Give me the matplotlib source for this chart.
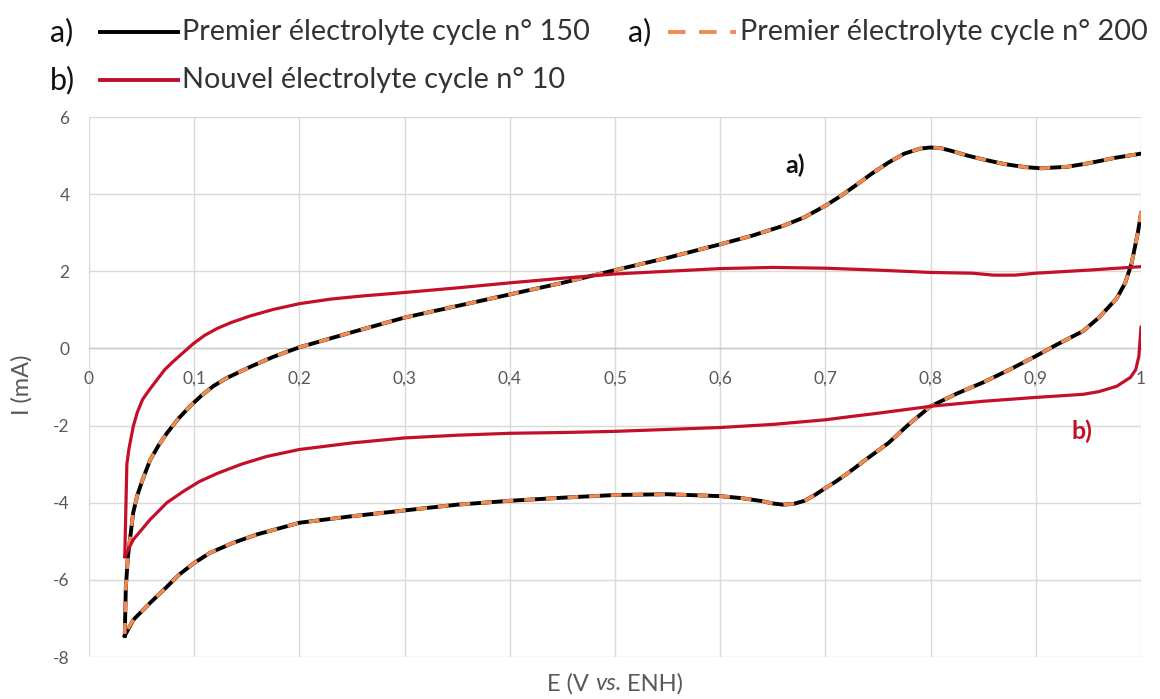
import matplotlib
matplotlib.use("Agg")
import matplotlib.pyplot as plt
from matplotlib.lines import Line2D
from matplotlib.transforms import offset_copy

plt.rcParams['font.family'] = ['Lato', 'DejaVu Sans']

# ---- data: cycle 150 (first electrolyte), anodic then cathodic sweep ----
E_a150_fwd = [0.034, 0.035, 0.037, 0.042, 0.046, 0.051, 0.058, 0.066, 0.074, 0.085, 0.096, 0.107,
              0.118, 0.13, 0.153, 0.175, 0.2, 0.25, 0.3, 0.35, 0.4, 0.45, 0.5, 0.55, 0.6, 0.63,
              0.66, 0.68, 0.7, 0.715, 0.73, 0.745, 0.76, 0.775, 0.79, 0.8, 0.81, 0.82, 0.835,
              0.85, 0.87, 0.89, 0.905, 0.93, 0.95, 0.975, 1.0]
I_a150_fwd = [-7.45, -6.2, -5.4, -4.26, -3.8, -3.4, -2.9, -2.52, -2.2, -1.82, -1.5, -1.22,
              -0.98, -0.78, -0.48, -0.22, 0.03, 0.42, 0.8, 1.1, 1.4, 1.7, 2.03, 2.35, 2.7, 2.92,
              3.18, 3.4, 3.7, 3.96, 4.25, 4.55, 4.82, 5.05, 5.18, 5.21, 5.19, 5.12, 5.0,
              4.9, 4.78, 4.7, 4.67, 4.71, 4.8, 4.94, 5.05]
E_a150_rev = [1.0, 0.997, 0.991, 0.985, 0.977, 0.96, 0.945, 0.92, 0.9, 0.875, 0.85, 0.825, 0.8,
              0.78, 0.76, 0.74, 0.723, 0.71, 0.7, 0.69, 0.68, 0.67, 0.66, 0.65, 0.64, 0.62, 0.6,
              0.55, 0.5, 0.45, 0.4, 0.35, 0.3, 0.25, 0.2, 0.16, 0.137, 0.115, 0.099, 0.085, 0.074,
              0.058, 0.042, 0.034]
I_a150_rev = [3.5, 3.0, 2.2, 1.7, 1.3, 0.8, 0.45, 0.1, -0.2, -0.55, -0.88, -1.17, -1.5,
              -1.95, -2.45, -2.85, -3.2, -3.45, -3.62, -3.8, -3.95, -4.03, -4.05, -4.02, -3.96, -3.88, -3.83,
              -3.78, -3.8, -3.87, -3.95, -4.05, -4.2, -4.35, -4.52, -4.82, -5.04, -5.3, -5.58, -5.88, -6.18,
              -6.6, -7.04, -7.45]

# ---- data: cycle 200 (first electrolyte) ----
E_a200_fwd = list(E_a150_fwd)
I_a200_fwd = [-7.4, -6.2, -5.4, -4.25, -3.8, -3.4, -2.9, -2.52, -2.2, -1.82, -1.5, -1.22,
              -0.98, -0.78, -0.48, -0.22, 0.03, 0.42, 0.8, 1.1, 1.4, 1.7, 2.03, 2.35, 2.7, 2.92,
              3.18, 3.4, 3.7, 3.96, 4.25, 4.55, 4.82, 5.05, 5.18, 5.21, 5.19, 5.12, 5.0,
              4.9, 4.78, 4.7, 4.67, 4.71, 4.8, 4.94, 5.05]
E_a200_rev = list(E_a150_rev)
I_a200_rev = [3.55, 3.0, 2.2, 1.7, 1.3, 0.8, 0.45, 0.1, -0.2, -0.55, -0.88, -1.17, -1.5,
              -1.95, -2.45, -2.85, -3.2, -3.45, -3.62, -3.8, -3.95, -4.03, -4.05, -4.02, -3.96, -3.88, -3.83,
              -3.78, -3.8, -3.87, -3.95, -4.05, -4.2, -4.35, -4.52, -4.82, -5.04, -5.3, -5.58, -5.88, -6.18,
              -6.6, -7.04, -7.4]

# ---- data: cycle 10 (new electrolyte) ----
E_b10_fwd = [0.034, 0.035, 0.036, 0.038, 0.042, 0.046, 0.051, 0.058, 0.065, 0.072, 0.08, 0.087,
             0.094, 0.099, 0.11, 0.122, 0.135, 0.153, 0.175, 0.2, 0.23, 0.26, 0.3, 0.35, 0.4, 0.45,
             0.5, 0.55, 0.6, 0.65, 0.7, 0.75, 0.8, 0.84, 0.86, 0.88, 0.9, 0.95, 1.0]
I_b10_fwd = [-5.4, -4.2, -3.0, -2.6, -2.03, -1.65, -1.32, -1.05, -0.8, -0.55, -0.34, -0.17,
             0.0, 0.12, 0.34, 0.52, 0.67, 0.84, 1.01, 1.16, 1.28, 1.36, 1.45, 1.57, 1.7, 1.82,
             1.93, 2.0, 2.07, 2.1, 2.08, 2.03, 1.97, 1.95, 1.9, 1.9, 1.95, 2.03, 2.12]
E_b10_rev = [1.0, 0.998, 0.995, 0.99, 0.977, 0.96, 0.945, 0.9, 0.85, 0.8, 0.75, 0.723, 0.7, 0.65,
             0.6, 0.55, 0.5, 0.45, 0.4, 0.35, 0.3, 0.25, 0.2, 0.169, 0.145, 0.122, 0.105, 0.09,
             0.074, 0.058, 0.042, 0.034]
I_b10_rev = [0.55, -0.2, -0.55, -0.75, -0.98, -1.12, -1.19, -1.27, -1.37, -1.5, -1.68, -1.77, -1.85, -1.97,
             -2.05, -2.1, -2.15, -2.18, -2.2, -2.25, -2.32, -2.45, -2.62, -2.8, -3.0, -3.24, -3.45, -3.7,
             -4.0, -4.44, -4.96, -5.4]

x_ticks = [0, 0.1, 0.2, 0.3, 0.4, 0.5, 0.6, 0.7, 0.8, 0.9, 1.0]
x_tick_labels = ["0", "0,1", "0,2", "0,3", "0,4", "0,5", "0,6", "0,7", "0,8", "0,9", "1"]
y_ticks = [-8, -6, -4, -2, 0, 2, 4, 6]
y_tick_labels = ["-8", "-6", "-4", "-2", "0", "2", "4", "6"]

BLACK = "#000000"
ORANGE = "#F08A50"
RED = "#C3102A"
GREY = "#595959"
GRID = "#D9D9D9"
DASH = (0, (3.0, 3.0))

fig = plt.figure(figsize=(11.6, 6.99), dpi=100)
ax = fig.add_axes([89 / 1160, 42 / 699, 1052 / 1160, 540 / 699])

for E, I in [(E_a150_fwd, I_a150_fwd), (E_a150_rev, I_a150_rev)]:
    ax.plot(E, I, color=BLACK, lw=2.8, solid_joinstyle='round', zorder=3)
for E, I in [(E_a200_fwd, I_a200_fwd), (E_a200_rev, I_a200_rev)]:
    ax.plot(E, I, color=ORANGE, lw=2.6, ls=DASH, zorder=4)
for E, I in [(E_b10_fwd, I_b10_fwd), (E_b10_rev, I_b10_rev)]:
    ax.plot(E, I, color=RED, lw=2.3, solid_joinstyle='round', zorder=5)

ax.set_xlim(0, 1)
ax.set_ylim(-8, 6)
ax.set_xticks(x_ticks)
ax.set_xticklabels(x_tick_labels)
ax.set_yticks(y_ticks)
ax.set_yticklabels(y_tick_labels)
ax.grid(True, color=GRID, lw=1.0, zorder=0)
ax.set_axisbelow(True)
for s in ['top', 'right', 'left']:
    ax.spines[s].set_visible(False)
ax.spines['bottom'].set_position(('data', 0))
ax.spines['bottom'].set_color("#C8C8C8")
ax.spines['bottom'].set_linewidth(1.0)
ax.tick_params(axis='x', length=0, pad=16, labelsize=12.5, labelcolor=GREY)
ax.tick_params(axis='y', length=0, pad=14, labelsize=12.5, labelcolor=GREY)

fig.text(22 / 1160, 1 - 385 / 699, "I (mA)", rotation=90, ha='center', va='center',
         fontsize=17, color=GREY)

# x-axis label with italic "vs." built from three pieces
fig.canvas.draw()
renderer = fig.canvas.get_renderer()
parts = [("E (V ", 'normal'), ("vs.", 'italic'), (" ENH)", 'normal')]
tmp = [fig.text(0, 0, t, fontsize=17, style=st) for t, st in parts]
widths = [t.get_window_extent(renderer).width for t in tmp]
for t in tmp:
    t.remove()
total = sum(widths)
x_start = 615 - total / 2
y_lab = 1 - 684 / 699
for (t, st), w in zip(parts, widths):
    fig.text(x_start / 1160, y_lab, t, fontsize=17, style=st, color=GREY, ha='left', va='center')
    x_start += w

ax.text(0.671, 4.75, "a)", fontsize=18, fontweight='bold', color="#111111", ha='center', va='center')
ax.text(0.944, -2.15, "b)", fontsize=18, fontweight='bold', color=RED, ha='center', va='center')

# legend (manual layout)
TXT = "#333333"
rows = [
    (1 - 32 / 699, 50, 100, 178, 182, "a)", BLACK, '-', "Premier électrolyte cycle n° 150"),
    (1 - 32 / 699, 628, 668, 736, 740, "a)", ORANGE, (0, (4.5, 3.5)), "Premier électrolyte cycle n° 200"),
    (1 - 80 / 699, 50, 100, 178, 182, "b)", RED, '-', "Nouvel électrolyte cycle n° 10"),
]
for y, xl, x0, x1, xt, tag, col, ls, label in rows:
    fig.text(xl / 1160, y, tag, fontsize=22, color="#111111", ha='left', va='center')
    fig.add_artist(Line2D([x0 / 1160, x1 / 1160], [y, y], transform=fig.transFigure,
                          color=col, lw=2.8, ls=ls))
    fig.text(xt / 1160, y, label, fontsize=20.8, color=TXT, ha='left', va='center')

fig.savefig("out.png", dpi=100)
